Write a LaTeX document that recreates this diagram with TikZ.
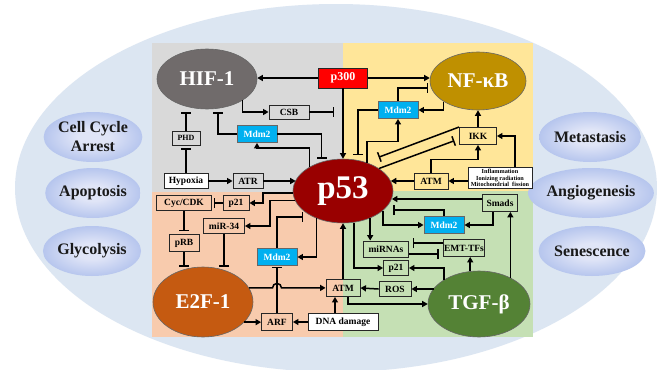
\documentclass[tikz,border=0pt]{standalone}
\usepackage{fontspec}
\setmainfont{Liberation Serif}
\usepackage{tikz}
\usetikzlibrary{arrows.meta, shapes, positioning, calc}

\definecolor{bgblue}{HTML}{DCE6F2}
\definecolor{quadgray}{HTML}{D9D9D9}
\definecolor{quadyellow}{HTML}{FFE699}
\definecolor{quadorange}{HTML}{F8CBAD}
\definecolor{quadgreen}{HTML}{C5E0B4}
\definecolor{hifgray}{HTML}{706B6B}
\definecolor{nfgold}{HTML}{BF9000}
\definecolor{p53red}{HTML}{990000}
\definecolor{e2forange}{HTML}{C55A11}
\definecolor{tgfgreen}{HTML}{548235}
\definecolor{mdmblue}{HTML}{00B0F0}
\definecolor{fateinner}{HTML}{E0E5F7}
\definecolor{fatemid}{HTML}{AFC0EC}
\definecolor{fateouter}{HTML}{7D98D8}
\pgfdeclareradialshading{fateshade}{\pgfpoint{0bp}{0bp}}{color(0bp)=(fateinner); color(8bp)=(fateinner); color(28bp)=(fatemid); color(50bp)=(fateouter)}

\begin{document}
\begin{tikzpicture}[x=1pt, y=-1pt,
    box/.style={draw=black!85, line width=0.9pt, inner sep=1pt, minimum height=15pt,
        font=\bfseries\fontsize{9.5}{10}\selectfont},
    mdm/.style={box, fill=mdmblue, draw=black!60, text=white, minimum width=40pt, minimum height=17pt},
    hub/.style={ellipse, draw=black!60, line width=0.6pt, text=white, inner sep=0pt,
        font=\bfseries\fontsize{21}{22}\selectfont},
    fate/.style={ellipse, shading=fateshade, minimum width=91pt, minimum height=50pt, inner sep=0pt,
        align=center, text=black!90, font=\bfseries\fontsize{16}{19}\selectfont},
    act/.style={-{Triangle[length=5.5pt,width=6pt]}, line width=1.5pt},
    inh/.style={-{Bar[width=10pt]}, line width=1.5pt}]
    \clip (0,0) rectangle (657,370);
    \fill[white] (0,0) rectangle (657,370);
    \fill[bgblue] (336,188) ellipse [x radius=321, y radius=184];
    \fill[quadgray] (152,43) rectangle (343,192);
    \fill[quadyellow] (343,43) rectangle (533,191);
    \fill[quadorange] (152,192) rectangle (343,337);
    \fill[quadgreen] (343,191) rectangle (533,337);

    \node[fate] (cca) at (93,137) {Cell Cycle\\Arrest};
    \node[fate] (apop) at (93,193) {Apoptosis};
    \node[fate] (glyc) at (92,251) {Glycolysis};
    \node[fate] (meta) at (590,137) {Metastasis};
    \node[fate] (angio) at (591,193) {Angiogenesis};
    \node[fate] (senes) at (592,251) {Senescence};

    \node[hub, fill=hifgray, minimum width=100pt, minimum height=60pt] (hif) at (207,79) {HIF-1};
    \node[hub, fill=nfgold, minimum width=96pt, minimum height=58pt] (nfkb) at (478,81) {NF-κB};
    \node[hub, fill=p53red, minimum width=100pt, minimum height=64pt,
        font=\bfseries\fontsize{33}{33}\selectfont] (p53) at (343,191) {p53};
    \node[hub, fill=e2forange, minimum width=100pt, minimum height=70pt] (e2f) at (203,302) {E2F-1};
    \node[hub, fill=tgfgreen, minimum width=102pt, minimum height=66pt] (tgf) at (479,304) {TGF-β};

    \node[box, fill=red, text=white, minimum width=49pt, minimum height=20pt,
        font=\bfseries\fontsize{12}{12}\selectfont] (p300) at (343,78) {p300};
    \node[box, minimum width=40pt, minimum height=14pt] (csb) at (289,112) {CSB};
    \node[mdm] (mdmA) at (257,134) {Mdm2};
    \node[box, minimum width=28pt, minimum height=14pt, font=\bfseries\fontsize{8}{8}\selectfont] (phd) at (186,138) {PHD};
    \node[box, fill=white, minimum width=44pt] (hypoxia) at (186,181) {Hypoxia};
    \node[box, minimum width=30pt] (atr) at (248,181) {ATR};

    \node[mdm] (mdmY) at (398,110) {Mdm2};
    \node[box, minimum width=37pt, minimum height=17pt] (ikk) at (478,136) {IKK};
    \node[box, minimum width=34pt, minimum height=16pt] (atmY) at (431,181) {ATM};
    \node[box, fill=white, minimum width=64pt, minimum height=21pt, inner sep=0pt, align=center,
        font=\bfseries\fontsize{6.2}{6.4}\selectfont] (infl) at (500,178) {Inflammation\\Ionizing radiation\\Mitochondrial\ \ fission};

    \node[box, minimum width=35pt, minimum height=17pt] (smads) at (500,203) {Smads};
    \node[mdm] (mdmG) at (444,225) {Mdm2};
    \node[box, minimum width=45pt, minimum height=16pt] (mirnas) at (386,249) {miRNAs};
    \node[box, minimum width=39pt, minimum height=17pt] (emt) at (464,248) {EMT-TFs};
    \node[box, minimum width=25pt] (p21G) at (396,268) {p21};
    \node[box, minimum width=32pt] (ros) at (395,289) {ROS};
    \node[box, minimum width=34pt, minimum height=17pt] (atmB) at (343,288) {ATM};
    \node[box, fill=white, minimum width=70pt, minimum height=17pt] (dna) at (343,322) {DNA damage};

    \node[box, minimum width=31pt, minimum height=17pt] (arf) at (277,322) {ARF};
    \node[mdm] (mdmO) at (277,257) {Mdm2};
    \node[box, minimum width=55pt] (cyc) at (184,203) {Cyc/CDK};
    \node[box, minimum width=26pt] (p21O) at (236,203) {p21};
    \node[box, minimum width=30pt, minimum height=17pt] (prb) at (184,243) {pRB};
    \node[box, minimum width=41pt] (mir34) at (224,226) {miR-34};

    \draw[act] (p300.west) -- (p300.west -| hif.east);
    \draw[act] (p300.east) -- (p300.east -| nfkb.west);
    \draw[act] (p300.south) -- (p53.north);
    \draw[act] (hif.329) |- (csb.west);
    \draw[inh] (csb.east) -- ++(25,0);
    \draw[inh] (mdmA.west) -| ([xshift=11pt,yshift=-33pt]hif.center);
    \draw[inh, shorten >=3pt] (mdmA.east) -| (p53.126);
    \draw[act] (p53.144) -- ++(0,-19) -| (mdmA.south);
    \draw[inh, shorten >=3pt] (phd.north) -- (phd.north |- hif.south);
    \draw[inh, shorten >=3pt] (hypoxia.north) -- (phd.south);
    \draw[act] (hypoxia.east) -- (atr.west);
    \draw[act] (atr.east) -- (atr.east -| p53.167);

    \draw[act] (nfkb.211) |- (mdmY.east);
    \draw[inh] (mdmY.north) |- ([xshift=-50pt,yshift=-7pt]nfkb.center);
    \draw[inh] (mdmY.west) -| ([xshift=15pt,yshift=36pt]p53.center);
    \draw[act] (p53.50) -- ++(0,-21) -| (mdmY.south);
    \draw[act] (ikk.north) -- (nfkb.south);
    \draw[act] ([xshift=15pt]infl.north) |- (ikk.east);
    \draw[act] (infl.west |- atmY.east) -- (atmY.east);
    \draw[act] (atmY.west) -- (atmY.west -| p53.12);
    \draw[act] (atmY.north) -- ++(0,-13) -| (ikk.south);
    \draw[inh, shorten >=14pt] (ikk.north west) -- (p53.52);
    \draw[inh, shorten >=5pt] (p53.32) -- ([yshift=-3pt]ikk.west);

    \draw[act] ([yshift=4pt]smads.west) -- ([yshift=4pt]smads.west -| p53.351);
    \draw[inh] (mdmG.north) |- ([xshift=50pt,yshift=-19pt]p53.center);
    \draw[act] (p53.334) |- (mdmG.west);
    \draw[act] ([xshift=-7pt]smads.south) |- (mdmG.east);
    \draw[act] (tgf.40) -- (tgf.40 |- smads.south);
    \draw[act] (p53.315) -- (p53.315 |- mirnas.north);
    \draw[inh, shorten >=4pt] ([yshift=5pt]emt.west) -- ([yshift=5pt]emt.west -| mirnas.east);
    \draw[inh, shorten >=4pt] ([yshift=-5pt]mirnas.east) -- ([yshift=-5pt]mirnas.east -| emt.west);
    \draw[act] (tgf.105) -- (tgf.105 |- emt.south);
    \draw[act] (p53.289) |- (p21G.west);
    \draw[act] (tgf.145) |- (p21G.east);
    \draw[act] (tgf.161 |- ros.east) -- (ros.east);
    \draw[act] (ros.west) -- (atmB.east);
    \draw[act] (atmB.north) -- (p53.south);
    \draw[act] ([xshift=5pt]atmB.south) |- (tgf.west);
    \draw[act] ([xshift=-8pt]dna.north) -- ([xshift=-8pt]dna.north |- atmB.south);

    \draw[act] (dna.west) -- (arf.east);
    \draw[act] (e2f.334) -- (e2f.334 -| arf.west);
    \draw[inh, shorten >=1pt] (arf.north) -- (mdmO.south);
    \draw[act] (e2f.17) -- ([xshift=-4.5pt]arf.north |- e2f.17) arc[start angle=180, end angle=0, radius=4.5pt]
        -- (atmB.west |- e2f.17);
    \draw[act] (p53.226) |- (mdmO.east);
    \draw[inh] (mdmO.north) |- ([xshift=-40pt,yshift=-26pt]p53.center);
    \draw[act] (p53.191) -- ++(-25,0) |- (mir34.east);
    \draw[act] (p53.182) -- ++(-30,0) |- (p21O.east);
    \draw[inh, shorten >=2pt] (p21O.west) -- (cyc.east);
    \draw[inh, shorten >=3pt] (cyc.south) -- (prb.north);
    \draw[inh] (prb.south) -- (prb.south |- e2f.north);
    \draw[inh] (mir34.south) -- (mir34.south |- e2f.north);
\end{tikzpicture}
\end{document}
